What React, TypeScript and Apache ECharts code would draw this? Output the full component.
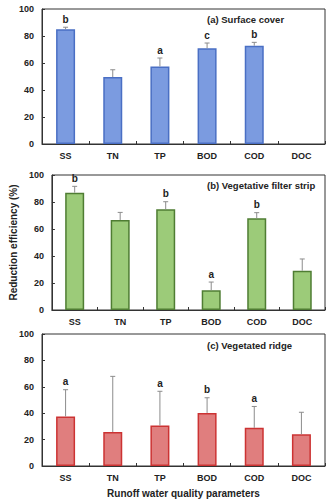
import React, { useEffect, useRef } from "react";
import * as echarts from "echarts";

const categories = ["SS", "TN", "TP", "BOD", "COD", "DOC"];
const yTicks = [0, 20, 40, 60, 80, 100];

const surfaceMean = [85.0, 49.6, 57.5, 70.9, 72.8, null];
const surfaceErr = [1.5, 5.4, 6.2, 3.9, 2.5, null];
const surfaceLetters = ["b", "", "a", "c", "b", ""];

const filterMean = [86.9, 66.7, 74.6, 14.6, 67.9, 29.1];
const filterErr = [4.7, 5.6, 5.6, 6.1, 4.2, 8.7];
const filterLetters = ["b", "", "b", "a", "b", ""];

const ridgeMean = [37.5, 25.7, 30.6, 40.2, 28.9, 24.0];
const ridgeErr = [20.3, 42.2, 26.0, 11.5, 16.2, 16.7];
const ridgeLetters = ["a", "", "a", "b", "a", ""];

const panelTitles = ["(a) Surface cover", "(b) Vegetative filter strip", "(c) Vegetated ridge"];

const FONT = "'Liberation Sans', Arial, sans-serif";

const panels = [
  { mean: surfaceMean, err: surfaceErr, letters: surfaceLetters, fill: "#7b9be0", border: "#4a6fc4" },
  { mean: filterMean, err: filterErr, letters: filterLetters, fill: "#9ccb79", border: "#4f7d33" },
  { mean: ridgeMean, err: ridgeErr, letters: ridgeLetters, fill: "#e07e7e", border: "#cc3333" },
];

const gridTops = [9, 175, 334];
const gridHeights = [135, 135, 136];

export default function App() {
  const ref = useRef<HTMLDivElement>(null);
  useEffect(() => {
    if (!ref.current) return;
    const chart = echarts.init(ref.current, undefined, { renderer: "svg" });
    const grid = panels.map((_, i) => ({
      left: 42,
      right: 8,
      top: gridTops[i],
      height: gridHeights[i],
      show: true,
      borderColor: "#333",
      borderWidth: 1,
      backgroundColor: "#fff",
    }));
    const xAxis = panels.map((_, i) => ({
      type: "category",
      gridIndex: i,
      data: categories,
      axisLine: { lineStyle: { color: "#333", width: 1 } },
      axisTick: { show: true, inside: true, length: 3, lineStyle: { color: "#333" } },
      axisLabel: { color: "#222", fontFamily: FONT, fontWeight: "bold", fontSize: 9, margin: 7 },
      name: i === 2 ? "Runoff water quality parameters" : "",
      nameLocation: "middle",
      nameGap: 22,
      nameTextStyle: { color: "#222", fontFamily: FONT, fontWeight: "bold", fontSize: 10 },
    }));
    const yAxis = panels.map((_, i) => ({
      type: "value",
      gridIndex: i,
      min: 0,
      max: 100,
      interval: 20,
      splitLine: { show: false },
      axisLine: { show: true, lineStyle: { color: "#333", width: 1 } },
      axisTick: { show: true, inside: true, length: 3, lineStyle: { color: "#333" } },
      axisLabel: {
        color: "#222",
        fontFamily: FONT,
        fontWeight: "bold",
        fontSize: 9,
        margin: 8,
        formatter: (v: number) => (yTicks.includes(v) ? String(v) : ""),
      },
      name: i === 1 ? "Reduction efficiency (%)" : "",
      nameLocation: "middle",
      nameGap: 33,
      nameTextStyle: { color: "#222", fontFamily: FONT, fontWeight: "bold", fontSize: 10 },
    }));
    const series: any[] = [];
    panels.forEach((p, i) => {
      series.push({
        type: "bar",
        xAxisIndex: i,
        yAxisIndex: i,
        data: p.mean,
        barWidth: 19,
        itemStyle: { color: p.fill, borderColor: p.border, borderWidth: 1.5 },
        z: 2,
      });
      series.push({
        type: "custom",
        xAxisIndex: i,
        yAxisIndex: i,
        z: 3,
        data: p.mean.map((m, k) => [k, m, p.err[k]]),
        renderItem: (params: any, api: any) => {
          const m = api.value(1);
          const e = api.value(2);
          if (m == null || e == null || isNaN(m) || isNaN(e)) return null;
          const base = api.coord([api.value(0), m]);
          const top = api.coord([api.value(0), m + e]);
          const st = { stroke: "#8c8c8c", lineWidth: 1 };
          return {
            type: "group",
            children: [
              { type: "line", shape: { x1: base[0], y1: base[1], x2: top[0], y2: top[1] }, style: st },
              { type: "line", shape: { x1: top[0] - 2.5, y1: top[1], x2: top[0] + 2.5, y2: top[1] }, style: st },
            ],
          };
        },
      });
      series.push({
        type: "custom",
        xAxisIndex: i,
        yAxisIndex: i,
        z: 4,
        data: p.mean.map((m, k) => [k, m, p.err[k], p.letters[k]]),
        renderItem: (params: any, api: any) => {
          const idx = params.dataIndex;
          const letter = p.letters[idx];
          const m = p.mean[idx];
          const e = p.err[idx];
          if (!letter || m == null || e == null) return null;
          const top = api.coord([idx, m + e]);
          return {
            type: "text",
            x: top[0],
            y: top[1] - 8,
            style: {
              text: letter,
              fill: "#222",
              font: `bold 10px ${FONT}`,
              align: "center",
              verticalAlign: "middle",
            },
          };
        },
      });
    });
    const graphic = panelTitles.map((t, i) => ({
      type: "text",
      left: 207,
      top: gridTops[i] + [5, 5, 6][i],
      style: { text: t, fill: "#222", font: `bold 9.5px ${FONT}` },
      z: 10,
    }));
    chart.setOption({
      animation: false,
      backgroundColor: "#fff",
      grid,
      xAxis,
      yAxis,
      series,
      graphic,
    });
    return () => chart.dispose();
  }, []);
  return (
    <div
      ref={ref}
      style={{ position: "fixed", left: 0, top: 0, width: 333, height: 499, background: "#fff" }}
    />
  );
}
